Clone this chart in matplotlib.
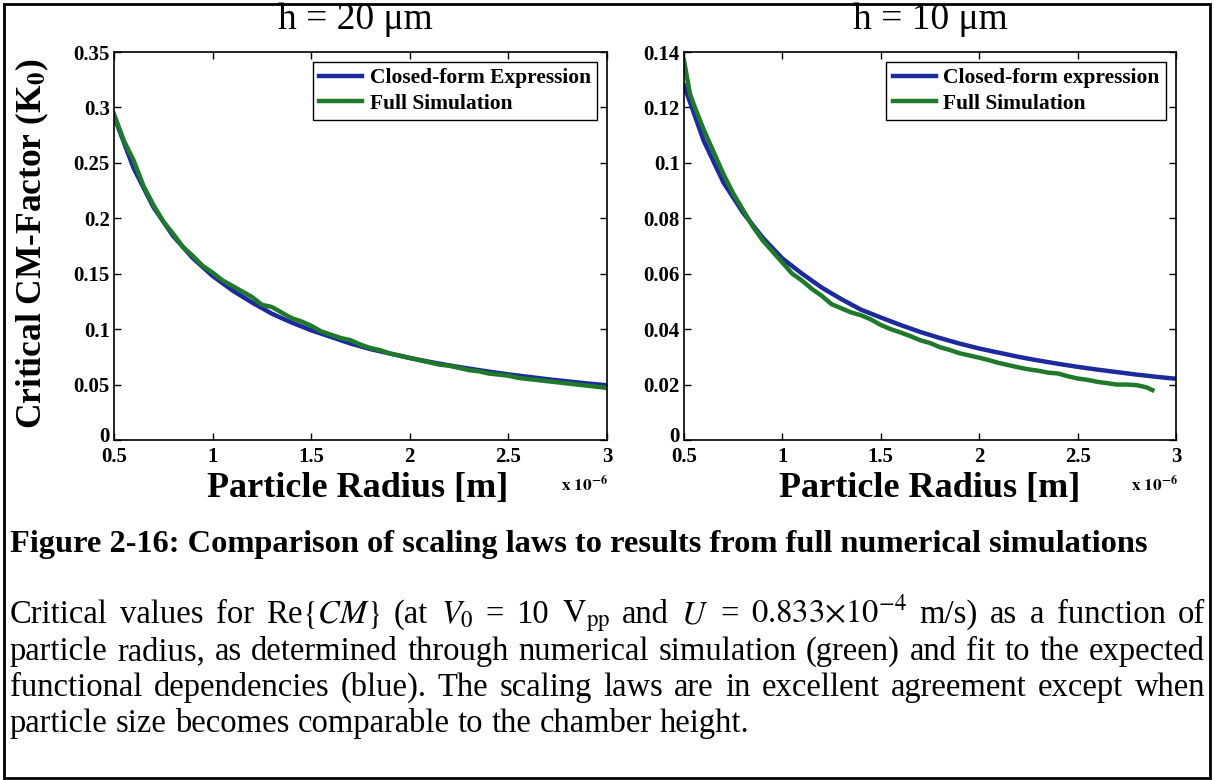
import matplotlib
matplotlib.use('Agg')
import matplotlib.pyplot as plt
from matplotlib.patches import Rectangle
from matplotlib.ticker import FuncFormatter
from matplotlib.transforms import ScaledTranslation

plt.rcParams['font.family'] = ['Liberation Serif', 'DejaVu Serif']
plt.rcParams['mathtext.fontset'] = 'stix'

# radius in units of 1e-6 m
r_closed = [0.5, 0.6, 0.7, 0.8, 0.9, 1.0, 1.1, 1.2, 1.3, 1.4, 1.5, 1.6, 1.7,
            1.8, 1.9, 2.0, 2.1, 2.2, 2.3, 2.4, 2.5, 2.6, 2.7, 2.8, 2.9, 3.0]

# h = 20 um
k_closed_20 = [0.292, 0.245, 0.210, 0.184, 0.164, 0.148, 0.135, 0.124, 0.114,
               0.106, 0.099, 0.093, 0.087, 0.082, 0.078, 0.074, 0.0705, 0.0673,
               0.0644, 0.0617, 0.0592, 0.057, 0.0548, 0.0529, 0.051, 0.0494]
r_sim_20 = [0.50, 0.55, 0.60, 0.65, 0.70, 0.75, 0.80, 0.85, 0.90, 0.95, 1.00,
            1.05, 1.10, 1.15, 1.20, 1.25, 1.30, 1.35, 1.40, 1.45, 1.50, 1.55,
            1.60, 1.65, 1.70, 1.75, 1.80, 1.85, 1.90, 1.95, 2.00, 2.05, 2.10,
            2.15, 2.20, 2.25, 2.30, 2.35, 2.40, 2.45, 2.50, 2.55, 2.60, 2.65,
            2.70, 2.75, 2.80, 2.85, 2.90, 2.95, 3.00]
k_sim_20 = [0.294, 0.270, 0.252, 0.229, 0.212, 0.197, 0.186, 0.174, 0.166,
            0.157, 0.151, 0.144, 0.139, 0.134, 0.129, 0.122, 0.120, 0.115,
            0.110, 0.107, 0.103, 0.098, 0.095, 0.092, 0.090, 0.086, 0.083,
            0.081, 0.078, 0.076, 0.074, 0.072, 0.070, 0.068, 0.067, 0.065,
            0.063, 0.062, 0.060, 0.059, 0.058, 0.056, 0.055, 0.054, 0.053,
            0.052, 0.051, 0.050, 0.049, 0.048, 0.047]

# h = 10 um
k_closed_10 = [0.128, 0.108, 0.093, 0.082, 0.073, 0.0655, 0.060, 0.055, 0.0508,
               0.047, 0.0442, 0.0415, 0.039, 0.0368, 0.0348, 0.033, 0.0315,
               0.030, 0.0287, 0.0275, 0.0264, 0.0254, 0.0245, 0.0236, 0.0228,
               0.0221]
r_sim_10 = [0.50, 0.53, 0.55, 0.60, 0.65, 0.70, 0.75, 0.80, 0.85, 0.90, 0.95,
            1.00, 1.05, 1.10, 1.15, 1.20, 1.25, 1.30, 1.35, 1.40, 1.45, 1.50,
            1.55, 1.60, 1.65, 1.70, 1.75, 1.80, 1.85, 1.90, 1.95, 2.00, 2.05,
            2.10, 2.15, 2.20, 2.25, 2.30, 2.35, 2.40, 2.45, 2.50, 2.55, 2.60,
            2.65, 2.70, 2.75, 2.80, 2.85, 2.88]
k_sim_10 = [0.137, 0.125, 0.121, 0.112, 0.104, 0.096, 0.089, 0.083, 0.077,
            0.072, 0.068, 0.064, 0.060, 0.0575, 0.0545, 0.052, 0.049, 0.0475,
            0.046, 0.045, 0.0435, 0.0415, 0.040, 0.0388, 0.0375, 0.036, 0.035,
            0.0335, 0.0325, 0.0313, 0.0305, 0.0297, 0.0288, 0.0278, 0.027,
            0.0262, 0.0255, 0.025, 0.0243, 0.024, 0.023, 0.0222, 0.0217, 0.021,
            0.0205, 0.020, 0.020, 0.0198, 0.019, 0.018]

x_ticks = [0.5, 1, 1.5, 2, 2.5, 3]
y_ticks_20 = [0, 0.05, 0.1, 0.15, 0.2, 0.25, 0.3, 0.35]
y_ticks_10 = [0, 0.02, 0.04, 0.06, 0.08, 0.1, 0.12, 0.14]

caption_title = 'Figure 2-16: Comparison of scaling laws to results from full numerical simulations'
caption_lines = [
    r'Critical values for Re$\{CM\}$ (at $V_0$ = 10 $\mathrm{V}_{\mathrm{pp}}$ and $U$ = $0.833{\times}10^{-4}$ m/s) as a function of',
    'particle radius, as determined through numerical simulation (green) and fit to the expected',
    'functional dependencies (blue).  The scaling laws are in excellent agreement except when',
    'particle size becomes comparable to the chamber height.',
]

BLUE = '#1c2a9c'
GREEN = '#1e7a2a'

W, H = 1214, 780
fig = plt.figure(figsize=(W / 100, H / 100), dpi=100)


def px(x, y):
    return x / W, 1 - y / H


def make_axes(x0, x1, y0, y1):
    return fig.add_axes([x0 / W, 1 - y1 / H, (x1 - x0) / W, (y1 - y0) / H])


ax1 = make_axes(114, 607, 52, 440)
ax2 = make_axes(684, 1176, 52, 440)

panels = [
    (ax1, k_closed_20, r_sim_20, k_sim_20, y_ticks_20, 'Closed-form Expression'),
    (ax2, k_closed_10, r_sim_10, k_sim_10, y_ticks_10, 'Closed-form expression'),
]
fmt = FuncFormatter(lambda v, p: '%g' % v)
lift = ScaledTranslation(0, 4 / 72, fig.dpi_scale_trans)
for ax, kc, rs, ks, yt, lab in panels:
    ax.plot(r_closed, kc, color=BLUE, lw=3.2, label=lab)
    ax.plot(rs, ks, color=GREEN, lw=3.2, label='Full Simulation')
    ax.set_xlim(0.5, 3)
    ax.set_ylim(yt[0], yt[-1])
    ax.set_xticks(x_ticks)
    ax.set_yticks(yt)
    ax.xaxis.set_major_formatter(fmt)
    ax.yaxis.set_major_formatter(fmt)
    ax.tick_params(direction='in', top=True, right=True, length=5, width=1,
                   labelsize=15)
    ax.tick_params(axis='x', pad=5)
    ax.tick_params(axis='y', pad=3)
    for t in ax.get_xticklabels() + ax.get_yticklabels():
        t.set_fontweight('bold')
    zero = ax.get_yticklabels()[0]
    zero.set_transform(zero.get_transform() + lift)
    for s in ax.spines.values():
        s.set_linewidth(1.2)
    leg = ax.legend(loc='upper right', fancybox=False, edgecolor='black',
                    prop=dict(weight='bold', size=15.5), handlelength=2.0,
                    borderaxespad=0.45, framealpha=1, labelspacing=0.25,
                    handletextpad=0.35, borderpad=0.3)
    leg.get_frame().set_linewidth(1.0)

fig.text(*px(355, 20), 'h = 20 \u03bcm', size=27, ha='center', va='center')
fig.text(*px(930, 20), 'h = 10 \u03bcm', size=27, ha='center', va='center')
fig.text(*px(32, 244), 'Critical CM-Factor (K$_\\mathbf{0}$)', size=25.5,
         weight='bold', rotation=90, ha='center', va='center')
for cx, ox in [(358, 585), (930, 1155)]:
    fig.text(*px(cx, 489), 'Particle Radius [m]', size=26, weight='bold',
             ha='center', va='center')
    fig.text(*px(ox, 485), r'$\mathbf{x\ 10^{-6}}$', size=12.5,
             ha='center', va='center')

fig.text(*px(10, 552), caption_title, size=23.3, weight='bold', va='baseline')

# justified caption paragraph
renderer = fig.canvas.get_renderer()
left, right = 10, 1205
baselines = [623, 660, 696, 732]
size = 23.5
space_px = size * 100 / 72 * 0.25
for i, (line, yb) in enumerate(zip(caption_lines, baselines)):
    words = line.split()
    texts = [fig.text(0, 1 - yb / H, w, size=size, va='baseline') for w in words]
    widths = [t.get_window_extent(renderer).width for t in texts]
    if i < len(caption_lines) - 1:
        gap = (right - left - sum(widths)) / (len(words) - 1)
    else:
        gap = space_px
    x = left
    for t, w in zip(texts, widths):
        t.set_x(x / W)
        x += w + gap

fig.patches.append(Rectangle((4 / W, 2 / H), 1206 / W, 774 / H, fill=False,
                             lw=2, ec='black', transform=fig.transFigure))

fig.savefig('out.png', dpi=100)
